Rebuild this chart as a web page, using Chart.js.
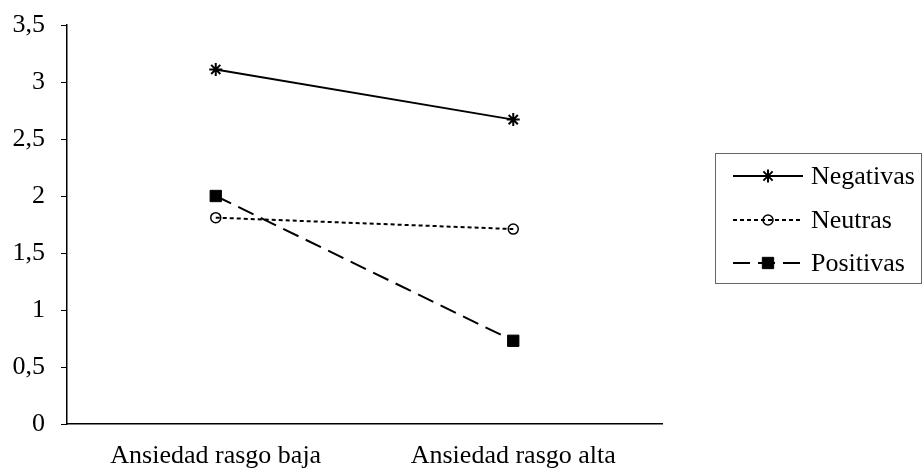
<!DOCTYPE html>
<html>
<head>
<meta charset="utf-8">
<script src="https://cdn.jsdelivr.net/npm/chart.js@4.4.0/dist/chart.umd.min.js"></script>
<style>
  html, body { margin: 0; padding: 0; background: #fff; }
  #wrap { width: 922px; height: 468px; }
</style>
</head>
<body>
<div id="wrap"><canvas id="grafico"></canvas></div>
<script>
    "use strict";

    // Datos
    var categorias = ["Ansiedad rasgo baja", "Ansiedad rasgo alta"];
    var negativas = [3.11, 2.67];
    var neutras = [1.81, 1.71];
    var positivas = [2.0, 0.73];
    var nombres = ["Negativas", "Neutras", "Positivas"];

    var fuente = "'Liberation Serif', 'Times New Roman', serif";
    Chart.defaults.font.family = fuente;
    Chart.defaults.font.size = 26;
    Chart.defaults.color = "#000";

    // Leyenda con muestra de línea + marcador
    var leyenda = {
        id: "leyenda",
        afterDraw: function (chart) {
            var ctx = chart.ctx;
            var x0 = 715, y0 = 153, w = 206, h = 130;
            ctx.save();
            ctx.strokeStyle = "#666";
            ctx.lineWidth = 1;
            ctx.strokeRect(x0 + 0.5, y0 + 0.5, w, h);
            var filas = [176, 220, 263];
            chart.data.datasets.forEach(function (ds, i) {
                var y = filas[i];
                ctx.save();
                ctx.strokeStyle = "#000";
                ctx.lineWidth = 2;
                ctx.setLineDash(ds.borderDash || []);
                ctx.beginPath();
                ctx.moveTo(733, y);
                ctx.lineTo(803, y);
                ctx.stroke();
                ctx.restore();
                ctx.lineWidth = ds.pointBorderWidth;
                ctx.strokeStyle = "#000";
                ctx.fillStyle = ds.pointBackgroundColor;
                Chart.helpers.drawPoint(ctx, {
                    pointStyle: ds.pointStyle,
                    radius: ds.pointRadius,
                    borderWidth: ds.pointBorderWidth,
                    rotation: 0
                }, 768, y);
                ctx.fillStyle = "#000";
                ctx.font = "26px " + fuente;
                ctx.textAlign = "left";
                ctx.textBaseline = "middle";
                ctx.fillText(ds.label, 811, y + 1);
            });
            ctx.restore();
        }
    };

    var ctx = document.getElementById("grafico").getContext("2d");
    var grafico = new Chart(ctx, {
        type: "line",
        data: {
            labels: categorias,
            datasets: [{
                label: nombres[0],
                data: negativas,
                borderColor: "#000",
                borderWidth: 2,
                pointStyle: "star",
                pointRadius: 6.5,
                pointBorderWidth: 2,
                pointBorderColor: "#000",
                pointBackgroundColor: "#000",
                borderDash: []
            }, {
                label: nombres[1],
                data: neutras,
                borderColor: "#000",
                borderWidth: 2,
                borderDash: [4, 3],
                pointStyle: "circle",
                pointRadius: 5,
                pointBorderWidth: 1.5,
                pointBorderColor: "#000",
                pointBackgroundColor: "rgba(255,255,255,0)"
            }, {
                label: nombres[2],
                data: positivas,
                borderColor: "#000",
                borderWidth: 2,
                borderDash: [17, 8],
                pointStyle: "rect",
                pointRadius: 8,
                pointBorderWidth: 1,
                pointBorderColor: "#000",
                pointBackgroundColor: "#000"
            }]
        },
        options: {
            responsive: true,
            maintainAspectRatio: false,
            animation: false,
            layout: { padding: { left: 0, top: 25, right: 260, bottom: 0 } },
            plugins: {
                legend: { display: false },
                tooltip: { enabled: false }
            },
            scales: {
                x: {
                    offset: true,
                    afterFit: function (s) {
                        s.height = 44;
                        s.paddingLeft = 0;
                        s.paddingRight = 0;
                    },
                    grid: { display: false },
                    border: { color: "#000", width: 1.5 },
                    ticks: { padding: 9, maxRotation: 0, autoSkip: false }
                },
                y: {
                    min: 0,
                    max: 3.5,
                    afterFit: function (s) {
                        s.width = 67;
                        s.paddingTop = 0;
                        s.paddingBottom = 0;
                    },
                    grid: { drawOnChartArea: false, drawTicks: true, tickLength: 6, color: "#000" },
                    border: { color: "#000", width: 1.5 },
                    ticks: {
                        stepSize: 0.5,
                        padding: 16,
                        callback: function (v) { return String(v).replace(".", ","); }
                    }
                }
            }
        },
        plugins: [leyenda]
    });
</script>
</body>
</html>
